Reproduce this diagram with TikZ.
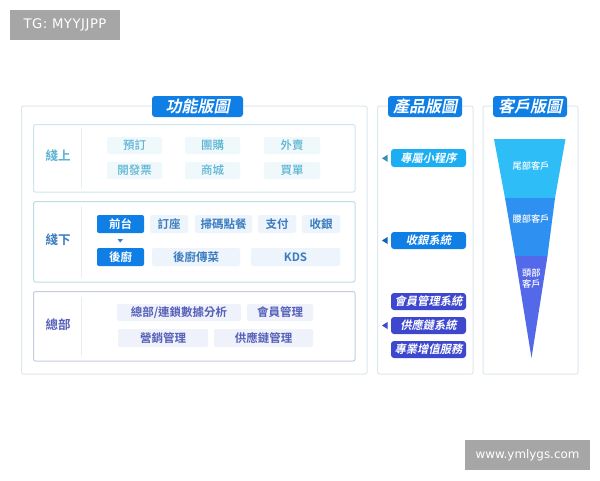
\documentclass[tikz,border=0pt]{standalone}
\usepackage{fontspec}
\setmainfont{Noto Sans CJK TC}
\newfontfamily\wm{DejaVu Sans}
\newfontfamily\wmspaced[LetterSpace=4]{DejaVu Sans}
\newfontfamily\slanted[FakeSlant=0.2]{Noto Sans CJK TC Bold}
\newfontfamily\boldcjk{Noto Sans CJK TC Bold}
\newfontfamily\medcjk{Noto Sans CJK TC Medium}
\usetikzlibrary{calc}
\definecolor{panelc}{HTML}{DCE8EF}
\definecolor{blueb}{HTML}{0F7FE6}
\definecolor{cyanb}{HTML}{1BAEF2}
\definecolor{indigob}{HTML}{3D48CF}
\definecolor{chipa}{HTML}{EFF9FB}
\definecolor{chipb}{HTML}{EEF4FC}
\definecolor{chipc}{HTML}{EFF1FB}
\definecolor{texta}{HTML}{5BB2D4}
\definecolor{textb}{HTML}{3A7CBE}
\definecolor{textc}{HTML}{5560B8}
\definecolor{borderA}{HTML}{CFE6EC}
\definecolor{borderB}{HTML}{BFDDE3}
\definecolor{borderC}{HTML}{C6CCE0}
\definecolor{fa}{HTML}{2FBDF8}
\definecolor{fb}{HTML}{2E90F0}
\definecolor{fc}{HTML}{5468EA}
\definecolor{wmc}{HTML}{A6A6A6}
\tikzset{
  x=1pt,y=-1pt,
  boxbase/.style={anchor=north west,inner sep=0pt,outer sep=0pt,rounded corners=2pt},
  panel/.style={boxbase,draw=panelc,line width=1pt,fill=white},
  inner/.style={boxbase,line width=1pt,fill=white},
  titlebox/.style={boxbase,fill=blueb,rounded corners=3pt,text=white,font=\slanted\fontsize{16}{16}\selectfont,align=center},
  chip/.style={boxbase,font=\medcjk\fontsize{11.5}{12}\selectfont,align=center},
  chipA/.style={chip,fill=chipa,text=texta},
  chipB/.style={chip,fill=chipb,text=textb,font=\boldcjk\fontsize{11.5}{12}\selectfont},
  chipC/.style={chip,fill=chipc,text=textc,font=\boldcjk\fontsize{11.5}{12}\selectfont},
  chipS/.style={chip,fill=blueb,text=white,font=\boldcjk\fontsize{11.5}{12}\selectfont},
  prod/.style={boxbase,rounded corners=3pt,text=white,font=\slanted\fontsize{11.3}{12}\selectfont,align=center},
  sect/.style={font=\boldcjk\fontsize{12.5}{13}\selectfont,inner sep=0pt},
  ftext/.style={text=white,font=\medcjk\fontsize{9.2}{11}\selectfont,align=center,inner sep=0pt},
  wmbox/.style={boxbase,fill=wmc,rounded corners=0pt,text=white,align=center},
}
% #1 name, #2 style, #3 x0, #4 y0, #5 x1, #6 y1, #7 text
\newcommand{\bx}[7]{\node[#2,minimum width=#5pt-#3pt,minimum height=#6pt-#4pt] (#1) at (#3,#4) {#7};}
\begin{document}
\begin{tikzpicture}
\useasboundingbox (0,0) rectangle (600,480);
\fill[white] (0,0) rectangle (600,480);
% watermarks
\bx{wmA}{wmbox,font=\wmspaced\fontsize{13.2}{14}\selectfont}{10}{10}{120}{40}{\raisebox{-1.2pt}{TG: MYYJJPP}}
\bx{wmB}{wmbox,font=\wm\fontsize{11.9}{13}\selectfont}{465}{440}{590}{470}{\raisebox{-1pt}{www.ymlygs.com}}
% panels
\bx{panelA}{panel}{21.5}{106}{367}{374}{}
\bx{panelB}{panel}{377.5}{106}{473}{374}{}
\bx{panelC}{panel}{483}{106}{578}{374}{}
\bx{titleA}{titlebox}{152}{96}{243}{117}{功能版圖}
\bx{titleB}{titlebox}{388}{96}{462}{117}{產品版圖}
\bx{titleC}{titlebox}{493}{96}{567}{117}{客戶版圖}
% inner boxes
\bx{boxA}{inner,draw=borderA}{33.5}{124.5}{355}{192}{}
\bx{boxB}{inner,draw=borderB}{33.5}{201.5}{355}{282}{}
\bx{boxC}{inner,draw=borderC}{33.5}{291.5}{355}{361}{}
\draw[panelc!70,line width=.7pt] (81.5,128) -- (81.5,188);
\draw[panelc!70,line width=.7pt] (81.5,206) -- (81.5,278);
\draw[panelc!70,line width=.7pt] (81.5,297) -- (81.5,356);
\node[sect,text=texta] (lblA) at (58,155.5) {綫上};
\node[sect,text=textb] (lblB) at (58,239.5) {綫下};
\node[sect,text=textc] (lblC) at (58,324.5) {總部};
% online chips
\bx{a1}{chipA}{107}{137}{162}{154}{預訂}
\bx{a2}{chipA}{185}{137}{240}{154}{團購}
\bx{a3}{chipA}{264}{137}{320}{154}{外賣}
\bx{a4}{chipA}{107}{162}{162}{179}{開發票}
\bx{a5}{chipA}{185}{162}{240}{179}{商城}
\bx{a6}{chipA}{264}{162}{320}{179}{買單}
% offline chips
\bx{b1}{chipS}{97}{215}{144}{233}{前台}
\bx{b2}{chipB}{150}{215}{188}{233}{訂座}
\bx{b3}{chipB}{195}{215}{252}{233}{掃碼點餐}
\bx{b4}{chipB}{258}{215}{296}{233}{支付}
\bx{b5}{chipB}{302}{215}{340}{233}{收銀}
\bx{b6}{chipS}{97}{248}{144}{266}{後廚}
\bx{b7}{chipB}{152}{248}{240}{266}{後廚傳菜}
\bx{b8}{chipB}{251}{248}{340}{266}{KDS}
\fill[textb] (117.5,239) -- (123,239) -- (120.2,242.5) -- cycle;
% HQ chips
\bx{c1}{chipC}{117}{304}{241}{321}{總部/連鎖數據分析}
\bx{c2}{chipC}{247}{304}{313}{321}{會員管理}
\bx{c3}{chipC}{118}{329}{208}{347}{營銷管理}
\bx{c4}{chipC}{214}{329}{313}{347}{供應鏈管理}
% product
\bx{p1}{prod,fill=cyanb}{391}{149}{466}{167}{專屬小程序}
\bx{p2}{prod,fill=blueb}{391}{232}{466}{249}{收銀系統}
\bx{p3}{prod,fill=indigob}{391}{293}{466}{310}{會員管理系統}
\bx{p4}{prod,fill=indigob}{391}{317}{466}{334}{供應鏈系統}
\bx{p5}{prod,fill=indigob}{391}{341}{466}{358}{專業增值服務}
\fill[cyanb!70!black!85] (382,158.3) -- (387.5,154.8) -- (387.5,161.8) -- cycle;
\fill[blueb!80!black] (382,240.5) -- (387.5,237) -- (387.5,244) -- cycle;
\fill[indigob] (382,325.5) -- (387.5,322) -- (387.5,329) -- cycle;
% funnel
\fill[fa] (494,139) -- (565.5,139) -- (555,198) -- (505,198) -- cycle;
\fill[fb] (505,198) -- (555,198) -- (547.5,256) -- (515,256) -- cycle;
\fill[fc] (515,256) -- (547.5,256) -- (531.5,358) -- cycle;
\node[ftext] (f1) at (531,165.5) {尾部客戶};
\node[ftext] (f2) at (531,219) {腰部客戶};
\node[ftext] (f3) at (531.3,278) {頭部\\客戶};
\end{tikzpicture}
\end{document}
